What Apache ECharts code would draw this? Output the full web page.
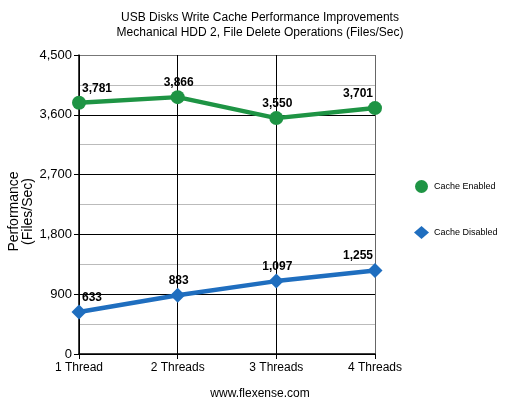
<!DOCTYPE html>
<html><head><meta charset="utf-8">
<script src="https://cdn.jsdelivr.net/npm/echarts@6/dist/echarts.min.js"></script>
<style>html,body{margin:0;padding:0;background:#fff}#c{width:520px;height:401px}</style>
</head><body><div id="c"></div>
<script>
var categories = ['1 Thread', '2 Threads', '3 Threads', '4 Threads'];
var cacheEnabled = [3781, 3866, 3550, 3701];
var cacheDisabled = [633, 883, 1097, 1255];
var seriesNames = ['Cache Enabled', 'Cache Disabled'];
var titleLines = ['USB Disks Write Cache Performance Improvements', 'Mechanical HDD 2, File Delete Operations (Files/Sec)'];
var footerText = 'www.flexense.com';
var yAxisName = 'Performance\n(Files/Sec)';

var FONT = '"Liberation Sans", Arial, sans-serif';
function fmt(v){ return String(v).replace(/\B(?=(\d{3})+(?!\d))/g, ','); }
function labelStyle(i, n){
  if (i === 0) return { align: 'left', offset: [3, 0] };
  if (i === n - 1) return { align: 'right', offset: [-2, 0] };
  return { align: 'center', offset: [1, 0] };
}
function buildData(arr){
  return arr.map(function(v, i){
    return { value: v, label: labelStyle(i, arr.length) };
  });
}
var chart = echarts.init(document.getElementById('c'), null, {renderer: 'canvas'});
chart.setOption({
  animation: false,
  textStyle: { fontFamily: FONT },
  title: [
    { text: titleLines.join('\n'), left: 'center', top: 5,
      textStyle: { fontFamily: FONT, fontSize: 12, fontWeight: 'normal', color: '#000', lineHeight: 15 } },
    { text: footerText, left: 'center', top: 383,
      textStyle: { fontFamily: FONT, fontSize: 12, fontWeight: 'normal', color: '#000' } }
  ],
  legend: {
    orient: 'vertical', left: 409, top: 175, itemGap: 33, itemWidth: 15, itemHeight: 13,
    textStyle: { fontFamily: FONT, fontSize: 9, color: '#000' },
    data: [
      { name: seriesNames[0], icon: 'circle' },
      { name: seriesNames[1], icon: 'diamond' }
    ]
  },
  grid: { left: 79, right: 145, top: 55, bottom: 47, outerBoundsMode: 'none', containLabel: false },
  xAxis: {
    type: 'category', data: categories, boundaryGap: false,
    axisLine: { lineStyle: { color: '#000', width: 1.5 } },
    axisTick: { show: true, length: 5, lineStyle: { color: '#000' } },
    axisLabel: { fontFamily: FONT, fontSize: 12, color: '#000', margin: 8 },
    splitLine: { show: true, lineStyle: { color: ['#000', '#000', '#000', '#666'], width: 1 } }
  },
  yAxis: {
    type: 'value', min: 0, max: 4500, interval: 900,
    name: yAxisName, nameLocation: 'middle', nameRotate: 90, nameGap: 44, nameMoveOverlap: false,
    nameTextStyle: { fontFamily: FONT, fontSize: 14, color: '#000', lineHeight: 14, padding: [0, 14, 0, 0] },
    axisLine: { show: true, lineStyle: { color: '#000', width: 1.5 } },
    axisTick: { show: true, length: 5, lineStyle: { color: '#000' } },
    axisLabel: { fontFamily: FONT, fontSize: 13, color: '#000', margin: 7, formatter: fmt },
    splitLine: { show: true, lineStyle: { color: ['#000', '#000', '#000', '#000', '#000', '#777'], width: 1 } },
    minorTick: { show: false, splitNumber: 2 },
    minorSplitLine: { show: true, lineStyle: { color: '#bbb', width: 1 } }
  },
  series: [
    { name: seriesNames[0], type: 'line', data: buildData(cacheEnabled),
      symbol: 'circle', symbolSize: 14, z: 3,
      itemStyle: { color: '#1e9444' }, lineStyle: { color: '#1e9444', width: 4.5 },
      label: { show: true, position: 'top', distance: 1, formatter: function(p){ return fmt(p.value); },
        fontFamily: FONT, fontSize: 12, fontWeight: 'bold', color: '#000' } },
    { name: seriesNames[1], type: 'line', data: buildData(cacheDisabled),
      symbol: 'diamond', symbolSize: 15, z: 3,
      itemStyle: { color: '#1f6ebf' }, lineStyle: { color: '#1f6ebf', width: 4.5 },
      label: { show: true, position: 'top', distance: 1, formatter: function(p){ return fmt(p.value); },
        fontFamily: FONT, fontSize: 12, fontWeight: 'bold', color: '#000' } }
  ]
});
</script></body></html>
